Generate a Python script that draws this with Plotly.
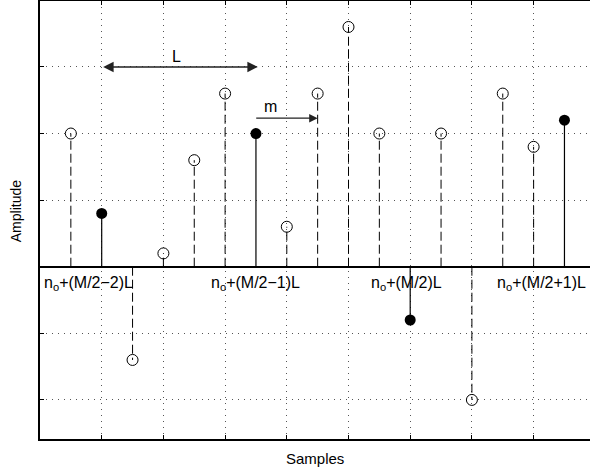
import plotly.graph_objects as go

# sample positions (in grid units) and amplitudes
open_x = [0.5, 1.5, 2.0, 2.5, 3.0, 4.0, 4.5, 5.0, 5.5, 6.5, 7.0, 7.5, 8.0]
open_y = [2.0, -1.4, 0.2, 1.6, 2.6, 0.6, 2.6, 3.6, 2.0, 2.0, -2.0, 2.6, 1.8]
filled_x = [1.0, 3.5, 6.0, 8.5]
filled_y = [0.8, 2.0, -0.8, 2.2]
label_texts = ["n<sub>o</sub>+(M/2\u22122)L", "n<sub>o</sub>+(M/2\u22121)L",
               "n<sub>o</sub>+(M/2)L", "n<sub>o</sub>+(M/2+1)L"]
label_x = [0.04, 2.74, 5.34, 7.37]
x_grid = [0, 1, 2, 3, 4, 5, 6, 7, 8, 9]
y_grid = [-2, -1, 0, 1, 2, 3, 4]

FONT = "Liberation Sans, Arial, Helvetica, sans-serif"


def stems(xs, ys):
    sx, sy = [], []
    for x, y in zip(xs, ys):
        sx += [x, x, None]
        sy += [0, y, None]
    return sx, sy


fig = go.Figure()
sx, sy = stems(open_x, open_y)
fig.add_trace(go.Scatter(x=sx, y=sy, mode="lines",
                         line=dict(color="black", width=1, dash="9px,4px"),
                         hoverinfo="skip"))
sx, sy = stems(filled_x, filled_y)
fig.add_trace(go.Scatter(x=sx, y=sy, mode="lines",
                         line=dict(color="black", width=1.2),
                         hoverinfo="skip"))
fig.add_trace(go.Scatter(x=open_x, y=open_y, mode="markers",
                         marker=dict(symbol="circle-open", size=11,
                                     color="black", line=dict(width=1))))
fig.add_trace(go.Scatter(x=filled_x, y=filled_y, mode="markers",
                         marker=dict(symbol="circle", size=11, color="black")))

annotations = []
for t, x in zip(label_texts, label_x):
    annotations.append(dict(x=x, y=-0.08, xref="x", yref="y", text=t,
                            showarrow=False, xanchor="left", yanchor="top",
                            font=dict(family=FONT, size=16, color="black")))

# L double arrow
annotations.append(dict(x=3.53, y=3.0, ax=1.0, ay=3.0, xref="x", yref="y",
                        axref="x", ayref="y", text="", showarrow=True,
                        arrowhead=2, startarrowhead=2, arrowside="end+start",
                        arrowsize=1.3, startarrowsize=1.3, arrowwidth=1.6,
                        arrowcolor="#222", standoff=0, startstandoff=0))
annotations.append(dict(x=2.22, y=3.16, xref="x", yref="y", text="L",
                        showarrow=False,
                        font=dict(family=FONT, size=16, color="black")))
# m arrow
annotations.append(dict(x=4.5, y=2.23, ax=3.48, ay=2.23, xref="x", yref="y",
                        axref="x", ayref="y", text="", showarrow=True,
                        arrowhead=2, arrowsize=1.3, arrowwidth=1.3,
                        arrowcolor="#222", standoff=0))
annotations.append(dict(x=3.74, y=2.40, xref="x", yref="y", text="m",
                        showarrow=False,
                        font=dict(family=FONT, size=16, color="black")))
# axis titles
annotations.append(dict(x=0.5, y=0, xref="paper", yref="paper",
                        text="Samples", showarrow=False, yanchor="top",
                        yshift=-9,
                        font=dict(family=FONT, size=15, color="black")))
annotations.append(dict(x=0, y=0.52, xref="paper", yref="paper",
                        text="Amplitude", showarrow=False, textangle=-90,
                        xanchor="right", xshift=-14,
                        font=dict(family=FONT, size=14, color="black")))

fig.update_layout(
    width=590, height=473,
    margin=dict(l=40, r=0, t=1, b=34),
    paper_bgcolor="white", plot_bgcolor="white",
    showlegend=False,
    annotations=annotations,
    xaxis=dict(range=[0, 8.914], tickvals=x_grid, showticklabels=False,
               showgrid=True, gridcolor="#555", griddash="1px,5px",
               gridwidth=1, zeroline=False, showline=True, linecolor="black",
               linewidth=1.5, mirror="ticks", ticks="inside", ticklen=4,
               tickcolor="black"),
    yaxis=dict(range=[-2.587, 3.99], tickvals=y_grid, showticklabels=False,
               showgrid=True, gridcolor="#555", griddash="1px,5px",
               gridwidth=1, zeroline=True, zerolinecolor="black",
               zerolinewidth=1.5, showline=True, linecolor="black",
               linewidth=1.5, mirror=False, ticks="inside", ticklen=4,
               tickcolor="black"),
)

fig.write_html("out.html", config={"displayModeBar": False},
               post_script="document.body.style.margin='0';")
